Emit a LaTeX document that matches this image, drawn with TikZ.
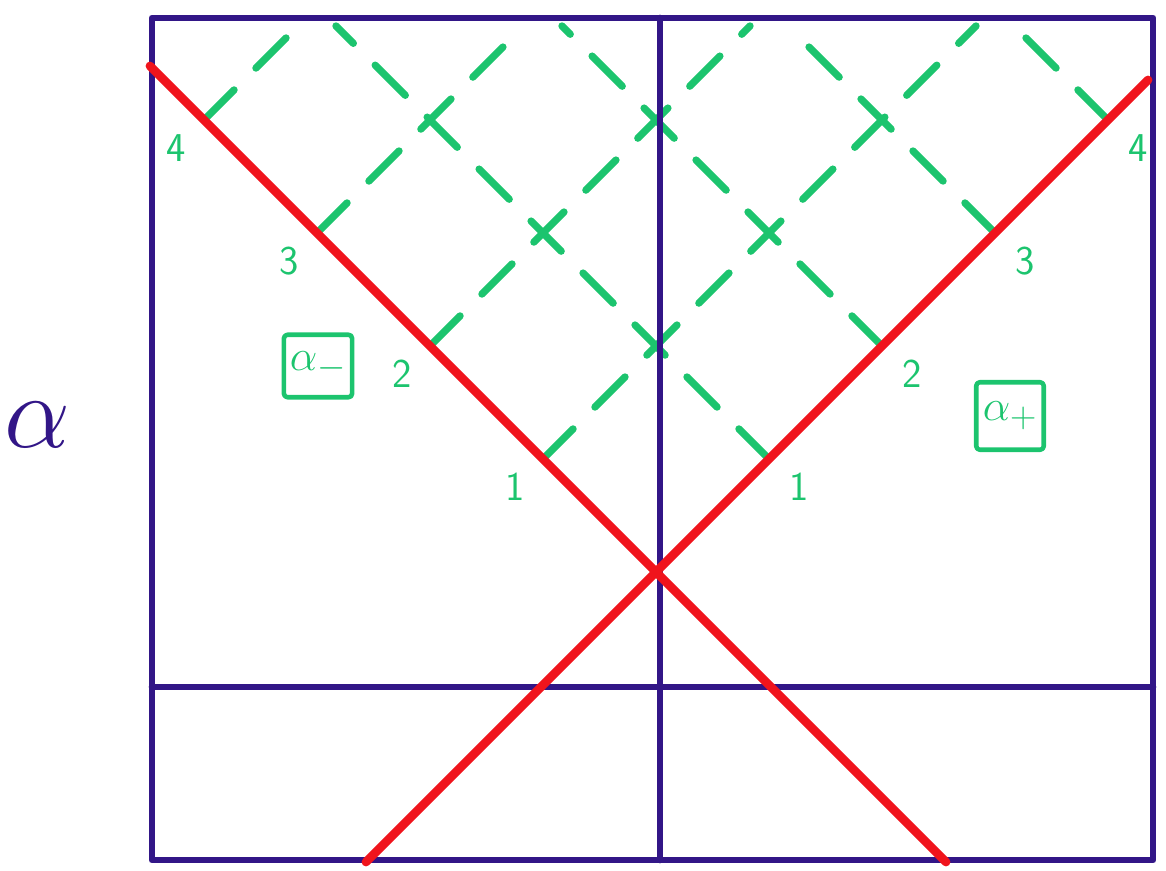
\documentclass[tikz,border=0pt]{standalone}
\usepackage{amsmath, amssymb}
\usetikzlibrary{calc}

\definecolor{frameblue}{RGB}{50,22,135}
\definecolor{rayred}{RGB}{240,20,28}
\definecolor{wavegreen}{RGB}{28,196,110}

\begin{document}
\begin{tikzpicture}[x=0.02cm, y=-0.02cm, line cap=round, line join=round,
    frame/.style={draw=frameblue, line width=3.8pt},
    ray/.style={draw=rayred, line width=5pt},
    wave/.style={draw=wavegreen, line width=4.2pt, dash pattern=on 0.85cm off 0.62cm},
    num/.style={text=wavegreen, font=\sffamily\LARGE, scale=1.35},
    tag/.style={draw=wavegreen, line width=2.6pt, text=wavegreen, minimum size=1.25cm,
      rounded corners=2pt, font=\Huge}]
        \useasboundingbox (0,0) rectangle (1166,871);
        % Define the spacing of the marked points along the red lines
        \def\dd{113}

        % Corners of the frame
        \coordinate (nw) at (152,18);
        \coordinate (se) at (1153,860);
        \coordinate (mt) at (660,18);
        \coordinate (mb) at (660,860);
        \coordinate (lw) at (152,687);
        \coordinate (le) at (1153,687);

        % Crossing point and ends of the red lines
        \coordinate (X) at (656,572);
        \coordinate (ltop) at (150,66);
        \coordinate (lbot) at (946,862);
        \coordinate (rtop) at (1148,80);
        \coordinate (rbot) at (366,862);

        % Draw the green dashed lines from the marked points up to the top edge
        \foreach \k in {1,...,4}
        {
          % Marked points on the two red lines
          \coordinate (L\k) at ({656-\dd*\k},{572-\dd*\k});
          \coordinate (R\k) at ({656+\dd*\k},{572-\dd*\k});
          % Where each dashed line ends below the top edge
          \coordinate (LT\k) at ({1202-2*\dd*\k},26);
          \coordinate (RT\k) at ({110+2*\dd*\k},26);
          \draw[wave] (L\k) -- (LT\k);
          \draw[wave] (R\k) -- (RT\k);
          \node[num] (nl\k) at ($(L\k)+(-28,28)$) {\k};
          \node[num] (nr\k) at ($(R\k)+(30,28)$) {\k};
        }

        % Draw the frame
        \draw[frame] (nw) rectangle (se);
        \draw[frame] (mt) -- (mb);
        \draw[frame] (lw) -- (le);

        % Draw the red lines
        \draw[ray] (ltop) -- (X) -- (lbot);
        \draw[ray] (rtop) -- (X) -- (rbot);

        \node[tag] (am) at (318,366) {$\alpha_-$};
        \node[tag, minimum size=1.35cm] (ap) at (1010,416) {$\alpha_+$};
        \node[text=frameblue, font=\Huge, scale=2.4] (alpha) at (38,425) {$\alpha$};
      \end{tikzpicture}
\end{document}
